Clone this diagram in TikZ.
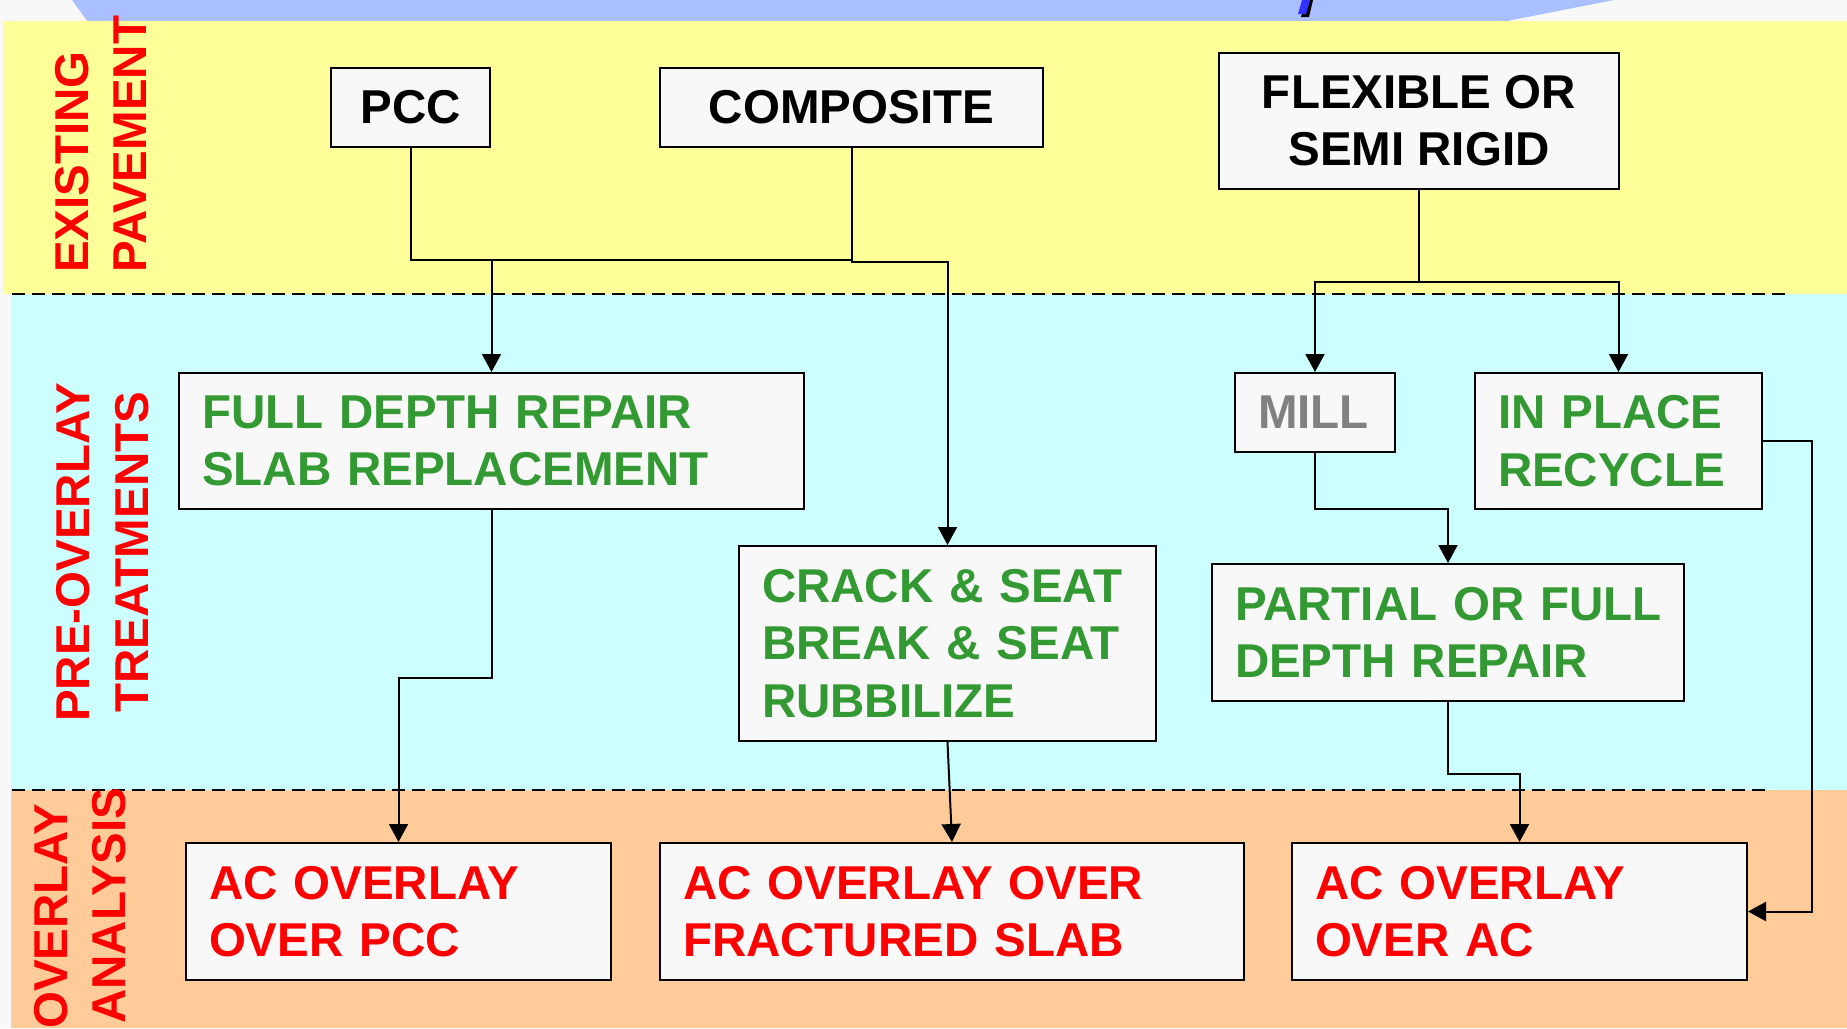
\documentclass[tikz,border=0pt]{standalone}
\usepackage{fontspec}
\setmainfont{Liberation Sans}
\usetikzlibrary{arrows.meta}
\definecolor{bgc}{HTML}{F8F8F8}
\definecolor{yel}{HTML}{FFFF99}
\definecolor{cya}{HTML}{CCFFFF}
\definecolor{ora}{HTML}{FFCC99}
\definecolor{blu}{HTML}{AABFFF}
\definecolor{grn}{HTML}{339933}
\definecolor{redt}{HTML}{FF0000}
\definecolor{gryt}{HTML}{808080}
\definecolor{slashc}{HTML}{3333FF}
\begin{document}
\begin{tikzpicture}[x=1pt,y=-1pt,
  bigfont/.style={font=\fontsize{47.5pt}{57.5pt}\selectfont\bfseries},
  box/.style={draw=black, line width=2pt, fill=bgc, inner ysep=0pt, bigfont},
  cbox/.style={box, align=center, inner xsep=0pt, text=black},
  lbox/.style={box, align=left, inner xsep=23pt},
  conn/.style={line width=2pt, draw=black},
  arr/.style={conn, -{Triangle[length=18pt,width=19pt]}},
  sepline/.style={line width=2pt, dash pattern=on 13pt off 7pt},
  lab/.style={rotate=90, anchor=base west, inner sep=0pt, text=redt, bigfont}
]
\useasboundingbox (0,0) rectangle (1847,1028);
% background bands
\fill[bgc] (0,0) rectangle (1847,1028);
\fill[blu] (72,0) -- (1614,0) -- (1502,22) -- (88,22) -- cycle;
\fill[yel] (3.3,21) rectangle (1847,294);
\fill[cya] (11,294) rectangle (1847,790);
\fill[ora] (11,790) rectangle (1847,1028);
% fragment of title glyph
\fill[black] (1305,0) -- (1313,0) -- (1309,17) -- (1301,17) -- cycle;
\fill[slashc] (1302,0) -- (1310,0) -- (1306,14) -- (1298,14) -- cycle;
% separators
\draw[sepline] (12,294) -- (1788,294);
\draw[sepline] (12,790) -- (1772,790);
% side labels
\node[lab] (lex) at (88,273) {EXISTING};
\node[lab] (lpv) at (146,273) {PAVEMENT};
\node[lab] (lpre) at (89,722) {PRE-OVERLAY};
\node[lab] (ltr) at (148,713) {TREATMENTS};
\node[lab] (lov) at (67,1029) {OVERLAY};
\node[lab] (lan) at (125,1024) {ANALYSIS};
% existing pavement
\node[cbox, minimum width=159pt, minimum height=79pt] (pcc) at (410.5,107.5) {PCC};
\node[cbox, minimum width=383pt, minimum height=79pt] (comp) at (851.5,107.5) {COMPOSITE};
\node[cbox, minimum width=400pt, minimum height=136pt] (flex) at (1419,120.5) {FLEXIBLE~OR\\SEMI~RIGID};
% pre-overlay treatments
\node[lbox, text=grn, text width=579pt, minimum height=136pt] (fdr) at (491.5,441) {FULL~DEPTH~REPAIR\\SLAB~REPLACEMENT};
\node[lbox, text=gryt, text width=114pt, minimum height=79pt] (mill) at (1315,412.5) {MILL};
\node[lbox, text=grn, text width=241pt, minimum height=136pt] (ipr) at (1618.5,441) {IN~PLACE\\RECYCLE};
\node[lbox, text=grn, text width=371pt, minimum height=195pt] (crack) at (947.5,643.5) {CRACK~\&~SEAT\\BREAK~\&~SEAT\\RUBBILIZE};
\node[lbox, text=grn, text width=426pt, minimum height=137pt] (pfd) at (1448,632.5) {PARTIAL~OR~FULL\\DEPTH~REPAIR};
% overlay analysis
\node[lbox, text=redt, text width=379pt, minimum height=137pt] (acpcc) at (398.5,911.5) {AC~OVERLAY\\OVER~PCC};
\node[lbox, text=redt, text width=538pt, minimum height=137pt] (acfr) at (952,911.5) {AC~OVERLAY~OVER\\FRACTURED~SLAB};
\node[lbox, text=redt, text width=409pt, minimum height=137pt] (acac) at (1519.5,911.5) {AC~OVERLAY\\OVER~AC};
% connectors
\coordinate (jpc) at (851.5,259.5);
\draw[conn] (pcc.south) |- (jpc);
\draw[arr] (fdr.north |- jpc) -- (fdr.north);
\draw[arr] (comp.south) -- ++(0,114) -| (crack.north);
\draw[arr] (fdr.south) -- ++(0,168) -| (acpcc.north);
\draw[arr] (crack.south) -- (acfr.north);
\draw[conn] (flex.south) -- ++(0,92) coordinate (jf);
\draw[arr] (jf) -| (mill.north);
\draw[arr] (jf) -| (ipr.north);
\draw[arr] (mill.south) -- ++(0,56) -| (pfd.north);
\draw[arr] (pfd.south) -- ++(0,72) -| (acac.north);
\draw[arr] (ipr.east) -- ++(48.6,0) |- (acac.east);
\end{tikzpicture}
\end{document}
